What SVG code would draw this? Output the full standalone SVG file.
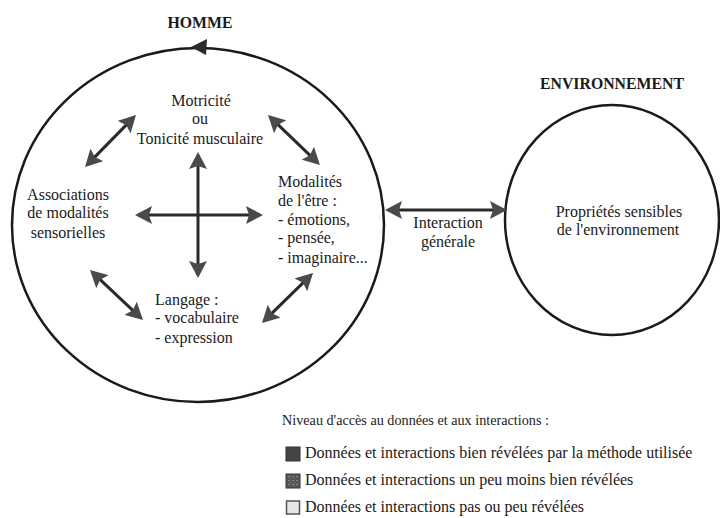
<svg xmlns="http://www.w3.org/2000/svg" width="720" height="518" viewBox="0 0 720 518">
<style>
text{font-family:'Liberation Serif','DejaVu Serif',serif;font-size:16px;fill:#1a1a1a}
.b{font-weight:bold;font-size:15.8px}
.m{text-anchor:middle}
.h{font-size:14.2px}
.circ{fill:none;stroke:#1a1a1a;stroke-width:2.5}
.arr{stroke:#2a2a2a;stroke-width:3;fill:none;marker-start:url(#ah);marker-end:url(#ah)}
</style>
<defs>
<marker id="ah" viewBox="0 0 17 18" refX="14" refY="9" markerWidth="17" markerHeight="18" markerUnits="userSpaceOnUse" orient="auto-start-reverse">
<path d="M0,0 L17,9 L0,18 L3,9 Z" fill="#4a4a4a"/>
</marker>
<pattern id="mot" width="4" height="4" patternUnits="userSpaceOnUse">
<rect width="4" height="4" fill="#555"/>
<rect x="0" y="0" width="2" height="1" fill="#8a8a8a"/>
<rect x="2" y="2" width="1" height="1" fill="#7a7a7a"/>
</pattern>
</defs>
<g id="homme">
<text class="b m" x="200" y="28">HOMME</text>
<ellipse class="circ" cx="198" cy="225" rx="186" ry="177"/>
<polygon points="191,47 207,39 206,55" fill="#2a2a2a"/>
</g>
<g id="environnement">
<text class="b m" x="612" y="89">ENVIRONNEMENT</text>
<ellipse class="circ" cx="612" cy="220" rx="107" ry="115"/>
<text class="m" x="619" y="217">Propriétés sensibles</text>
<text class="m" x="618" y="235">de l'environnement</text>
</g>
<g id="motricite">
<text class="m" x="201" y="106">Motricité</text>
<text class="m" x="200" y="124">ou</text>
<text class="m" x="200" y="144">Tonicité musculaire</text>
</g>
<g id="associations">
<text class="m" x="68" y="200">Associations</text>
<text class="m" x="68" y="218">de modalités</text>
<text class="m" x="68" y="238">sensorielles</text>
</g>
<g id="modalites">
<text x="278" y="187">Modalités</text>
<text x="278" y="206">de l'être :</text>
<text x="278" y="225">- émotions,</text>
<text x="278" y="243">- pensée,</text>
<text x="278" y="263">- imaginaire...</text>
</g>
<g id="langage">
<text x="155" y="305">Langage :</text>
<text x="155" y="323">- vocabulaire</text>
<text x="155" y="343">- expression</text>
</g>
<g id="interaction-label">
<text class="m" x="448" y="228">Interaction</text>
<text class="m" x="448" y="247">générale</text>
</g>
<g id="connectors">
<line class="arr" x1="198" y1="155" x2="198" y2="275"/>
<line class="arr" x1="138" y1="215" x2="260" y2="215"/>
<line class="arr" x1="133.9" y1="117.1" x2="87.1" y2="164.9"/>
<line class="arr" x1="270.2" y1="117.1" x2="317.8" y2="162.9"/>
<line class="arr" x1="92.2" y1="272.1" x2="140.8" y2="317.9"/>
<line class="arr" x1="310.9" y1="275.1" x2="264.1" y2="320.9"/>
<line class="arr" x1="388" y1="210" x2="504" y2="210"/>
</g>
<g id="legend">
<text class="h" x="282" y="425">Niveau d'accès au données et aux interactions :</text>
<rect x="286" y="447" width="14" height="14" fill="#444" stroke="#333" stroke-width="1"/>
<text x="305" y="458">Données et interactions bien révélées par la méthode utilisée</text>
<rect x="286" y="474" width="14" height="14" fill="url(#mot)" stroke="#333" stroke-width="1"/>
<text x="305" y="485">Données et interactions un peu moins bien révélées</text>
<rect x="286.5" y="501" width="13" height="13" fill="#e6e6e6" stroke="#555" stroke-width="1.5"/>
<text x="305" y="512">Données et interactions pas ou peu révélées</text>
</g>
</svg>
